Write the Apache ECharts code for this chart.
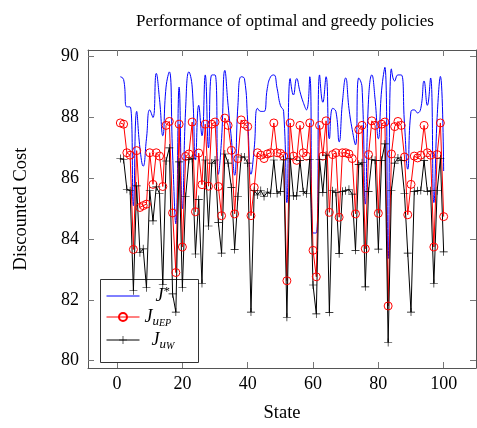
<!DOCTYPE html>
<html><head><meta charset="utf-8">
<script src="https://cdn.jsdelivr.net/npm/echarts@6/dist/echarts.min.js"></script>
<style>html,body{margin:0;padding:0;background:#fff}#c{width:477px;height:428px}</style>
</head><body><div id="c"></div>
<script>
// State index 1..100
const states = Array.from({length: 100}, (_, i) => i + 1);

// J* (optimal)
const jStar = [
89.34,89.25,88.35,88.35,85.10,88.20,87.00,86.40,87.30,88.25,
88.00,89.45,88.60,87.40,89.00,89.50,86.80,84.50,89.00,85.00,
88.30,89.50,89.00,86.60,88.40,87.40,89.40,87.00,89.40,89.40,
86.13,87.30,89.55,88.40,87.30,86.10,88.40,89.34,89.28,87.87,
86.13,87.00,88.30,88.20,88.20,88.96,89.34,89.40,88.96,88.40,
88.20,85.20,89.28,88.74,89.28,88.85,88.50,88.25,89.34,84.20,
84.20,89.40,88.50,89.34,87.30,88.30,88.20,87.20,88.50,89.30,
88.30,87.60,87.10,89.30,89.00,85.15,88.60,89.40,88.60,87.30,
88.90,89.65,83.36,89.60,89.20,89.40,89.40,87.80,86.30,88.20,
88.25,88.15,88.30,89.20,88.40,89.30,85.20,88.00,89.35,86.24
];

// J_{u_EP}
const jEP = [
87.82,87.78,86.84,86.76,83.66,86.91,85.04,85.10,85.15,86.84,
85.80,86.84,86.73,85.73,87.74,87.87,84.86,82.90,87.78,83.74,
86.72,86.80,87.85,84.90,86.83,85.79,87.78,85.74,87.78,87.85,
85.73,84.77,87.98,87.74,86.92,84.83,86.65,87.92,87.78,87.70,
84.77,85.70,86.84,86.76,86.65,86.80,86.84,87.82,86.84,86.82,
86.73,82.63,87.82,86.73,86.59,87.74,86.84,86.73,87.82,83.63,
82.76,87.74,86.73,87.89,84.88,86.78,86.84,84.72,86.84,86.84,
86.80,86.65,84.83,87.60,87.74,83.68,86.78,87.89,87.74,84.85,
87.78,87.85,81.80,86.80,87.70,87.87,87.74,86.70,84.80,85.80,
86.73,86.67,86.76,87.74,86.84,86.76,83.74,86.78,87.82,84.74
];

// J_{u_W}
const jW = [
86.65,86.62,85.64,85.59,82.30,85.75,83.55,83.68,82.40,85.59,
84.60,85.72,85.50,82.50,86.57,87.00,82.20,81.60,86.54,82.40,
85.40,86.62,86.65,83.51,85.30,82.54,86.60,84.43,86.50,86.60,
84.55,83.54,86.80,86.50,85.70,83.66,85.40,86.70,86.70,86.50,
81.60,85.60,85.45,85.60,85.40,85.55,85.50,86.60,85.50,85.56,
86.60,81.43,86.65,85.42,85.42,86.59,85.56,85.49,86.62,82.49,
81.54,86.62,85.53,86.76,81.59,85.59,85.53,83.52,85.57,85.59,
85.64,85.48,83.63,86.46,86.51,82.43,85.57,86.62,86.59,83.67,
86.59,87.13,80.60,85.60,86.50,86.67,86.59,85.50,83.54,81.60,
85.57,85.59,85.60,86.59,85.57,85.59,82.54,85.59,86.65,83.58
];

const xTicks = [0, 20, 40, 60, 80, 100];
const yTicks = [80, 82, 84, 86, 88, 90];

const FONT = 'Liberation Serif';
const frameColor = '#555';
const tickColor = '#777';
const X_MIN = -8.9, X_MAX = 109.9, Y_MIN = 79.76, Y_MAX = 90.22;

const pair = arr => states.map((x, i) => [x, arr[i]]);
const plusPath = 'path://M4.6,0H5.4V4.6H10V5.4H5.4V10H4.6V5.4H0V4.6H4.6Z';

function xAxisDef(pos, labels) {
  return {
    type: 'value', min: X_MIN, max: X_MAX, position: pos,
    axisLine: {show: true, onZero: false, lineStyle: {color: frameColor, width: 1}},
    axisTick: {show: true, inside: true, length: 6, customValues: xTicks, lineStyle: {color: tickColor}},
    axisLabel: labels ? {show: true, customValues: xTicks, color: '#000', fontFamily: FONT, fontSize: 18, margin: 7} : {show: false},
    splitLine: {show: false},
    name: labels ? 'State' : '', nameLocation: 'middle', nameGap: 36,
    nameTextStyle: {fontFamily: FONT, fontSize: 18.5, color: '#000'}
  };
}
function yAxisDef(pos, labels) {
  return {
    type: 'value', min: Y_MIN, max: Y_MAX, position: pos,
    axisLine: {show: true, onZero: false, lineStyle: {color: frameColor, width: 1}},
    axisTick: {show: true, inside: true, length: 6, customValues: yTicks, lineStyle: {color: tickColor}},
    axisLabel: labels ? {show: true, customValues: yTicks, color: '#000', fontFamily: FONT, fontSize: 18, margin: 9} : {show: false},
    splitLine: {show: false},
    name: labels ? 'Discounted Cost' : '', nameLocation: 'middle', nameGap: 57, nameRotate: 90,
    nameTextStyle: {fontFamily: FONT, fontSize: 18.5, color: '#000'}
  };
}

const legendText = {
  'J*': '{aS|J}{sup|*}',
  'JuEP': '{a|J}{sub|u}{ss|EP}',
  'JuW': '{aW|J}{sub|u}{ss|W}'
};
const base = {fontFamily: FONT, fontStyle: 'italic', color: '#000'};

const chart = echarts.init(document.getElementById('c'), null, {renderer: 'canvas'});
chart.setOption({
  animation: false,
  backgroundColor: '#fff',
  title: {
    text: 'Performance of optimal and greedy policies',
    left: 131, top: 8,
    textStyle: {fontFamily: FONT, fontSize: 17, fontWeight: 'normal', color: '#000'}
  },
  grid: {left: 88, right: 1, top: 50, bottom: 56, containLabel: false},
  xAxis: [xAxisDef('bottom', true), xAxisDef('top', false)],
  yAxis: [yAxisDef('left', true), yAxisDef('right', false)],
  graphic: {
    elements: [{
      type: 'rect', z: 3, zlevel: 0,
      shape: {x: 100.5, y: 279.5, width: 98, height: 83},
      style: {fill: '#fff', stroke: '#333', lineWidth: 1}
    }]
  },
  legend: {
    orient: 'vertical', left: 100, top: 279, z: 5,
    padding: [6, 6, 6, 6], itemGap: 3, itemWidth: 33, itemHeight: 10,
    backgroundColor: 'transparent',
    selectedMode: false,
    lineStyle: {width: 1},
    data: [
      {name: 'J*', itemStyle: {opacity: 0}},
      {name: 'JuEP'},
      {name: 'JuW'}
    ],
    formatter: name => legendText[name],
    textStyle: {
      ...base, fontSize: 16,
      rich: {
        a: {...base, fontSize: 18, lineHeight: 22, verticalAlign: 'middle'},
        aS: {...base, fontSize: 18, lineHeight: 22, verticalAlign: 'middle', padding: [0, 0, 0, 11]},
        aW: {...base, fontSize: 18, lineHeight: 22, verticalAlign: 'middle', padding: [0, 0, 0, 7]},
        sup: {...base, fontStyle: 'normal', fontSize: 13, lineHeight: 10, verticalAlign: 'top'},
        sub: {...base, fontSize: 13, lineHeight: 14, verticalAlign: 'bottom'},
        ss: {...base, fontSize: 10, lineHeight: 6, verticalAlign: 'bottom'}
      }
    }
  },
  series: [
    {
      name: 'J*', type: 'line', data: pair(jStar), smooth: 0.5,
      symbol: 'none', showSymbol: false,
      lineStyle: {color: '#0000ff', width: 1}, itemStyle: {color: '#0000ff'}
    },
    {
      name: 'JuEP', type: 'line', data: pair(jEP),
      symbol: 'circle', symbolSize: 8, showSymbol: true,
      lineStyle: {color: '#ff0000', width: 1},
      itemStyle: {color: 'rgba(255,255,255,0)', borderColor: '#ff0000', borderWidth: 1}
    },
    {
      name: 'JuW', type: 'line', data: pair(jW),
      symbol: plusPath, symbolSize: 8, showSymbol: true,
      lineStyle: {color: '#000', width: 1},
      itemStyle: {color: '#000'}
    }
  ]
});
</script>
</body></html>
